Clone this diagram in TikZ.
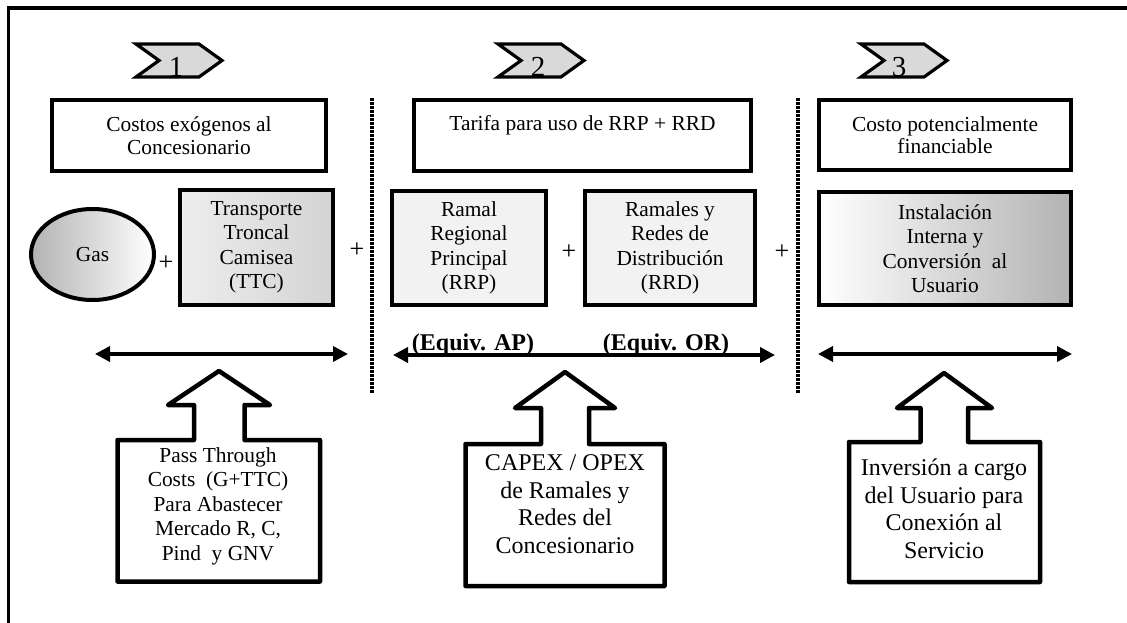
\documentclass[tikz,border=0pt]{standalone}
\usepackage{fontspec}
\setmainfont{Liberation Serif}
\usetikzlibrary{arrows.meta,shapes.geometric}
\newcommand\fsz[2]{\fontsize{#1}{#2}\selectfont}
\begin{document}
\begin{tikzpicture}[x=1pt,y=-1pt,
  frame/.style={line width=3.5pt},
  box/.style={draw,line width=4pt,align=center,inner sep=0pt,font=\fsz{21.4}{24.5}},
  chev/.style={draw,fill=black!15,line width=3.2pt,line join=miter},
  digit/.style={font=\fsz{29}{32},inner sep=0pt,anchor=base},
  plus/.style={font=\fsz{26}{28},inner sep=0pt},
  sep/.style={line width=4pt,dash pattern=on 2.7pt off 1.3pt},
  span/.style={line width=3.5pt,{Triangle[length=15pt,width=15pt]}-{Triangle[length=15pt,width=15pt]}},
  equiv/.style={font=\bfseries\fsz{24}{28},inner sep=0pt,anchor=base},
  blockarrow/.style={draw,line width=4.5pt,line join=round},
  note/.style={align=center,inner sep=0pt},
  pics/stepchev/.style={code={
    \draw[chev] (0,0) -- (63,0) -- (86,16.5) -- (63,33) -- (0,33) -- (23,16.5) -- cycle;}},
]
\useasboundingbox (0,0) rectangle (1127,623);
\clip (0,0) rectangle (1127,623);

% outer frame (runs past the page on the right and bottom)
\draw[frame] (8.5,8) rectangle (1170,680);

% step markers
\pic at (136,44) {stepchev};
\node[digit] (d1) at (176,77) {1};
\pic at (498,44) {stepchev};
\node[digit] (d2) at (538,77) {2};
\pic at (861,44) {stepchev};
\node[digit] (d3) at (899,77) {3};

% headings
\node[box,minimum width=274,minimum height=71] (h1) at (189,135.5)
  {\raisebox{-2pt}{Costos exógenos al}\\Concesionario};
\node[box,minimum width=337,minimum height=71] (h2) at (582.5,135.5)
  {Tarifa para uso de RRP + RRD\\\mbox{}};
\node[box,minimum width=252,minimum height=70] (h3) at (945,135)
  {\raisebox{-2pt}{Costo potencialmente}\\financiable};

% cost components
\node[box,ellipse,minimum width=123,minimum height=91,
      left color=black!30,right color=white] (gas) at (92.5,254.5) {Gas};
\node[box,minimum width=153,minimum height=115,
      left color=black!7,middle color=white,right color=black!17] (ttc) at (256.5,247.5)
  {Transporte\\Troncal\\Camisea\\(TTC)};
\node[box,minimum width=154,minimum height=114,
      left color=black!5,middle color=white,right color=black!5] (rrp) at (469,248)
  {Ramal\\Regional\\Principal\\(RRP)};
\node[box,minimum width=170,minimum height=114,
      left color=black!5,middle color=white,right color=black!5] (rrd) at (670,248)
  {Ramales y\\Redes de\\Distribución\\(RRD)};
\node[box,minimum width=252,minimum height=113,
      left color=white,right color=black!30] (inst) at (945,248.5)
  {Instalación\\Interna y\\Conversión\ \ al\\Usuario};

% plus signs
\node[plus] (p1) at (166,263) {+};
\node[plus] (p2) at (357,250) {+};
\node[plus] (p3) at (569,252) {+};
\node[plus] (p4) at (782,252) {+};

% dotted separators
\coordinate (s1t) at (372,98);  \coordinate (s1b) at (372,393);
\coordinate (s2t) at (798,98);  \coordinate (s2b) at (798,393);
\draw[sep] (s1t) -- (s1b);
\draw[sep] (s2t) -- (s2b);

% spans
\coordinate (a1l) at (95,354);  \coordinate (a1r) at (348,354);
\coordinate (a2l) at (393,355); \coordinate (a2r) at (775,355);
\coordinate (a3l) at (818,354); \coordinate (a3r) at (1072,354);
\draw[span] (a1l) -- (a1r);
\draw[span] (a2l) -- (a2r);
\draw[span] (a3l) -- (a3r);
\node[equiv] (eap) at (473,350) {(Equiv. AP)};
\node[equiv] (eor) at (666,350) {(Equiv. OR)};

% block arrows with their notes
\draw[blockarrow] (219,371) -- (270,405) -- (244.5,405) -- (244.5,440) -- (320,440)
  -- (320,581.5) -- (117.5,581.5) -- (117.5,440) -- (194,440) -- (194,405) -- (168,405) -- cycle;
\draw[blockarrow] (565,372) -- (615,408) -- (589,408) -- (589,444) -- (664.5,444)
  -- (664.5,586) -- (465.5,586) -- (465.5,444) -- (541,444) -- (541,408) -- (515,408) -- cycle;
\draw[blockarrow] (944,373) -- (992,408) -- (968,408) -- (968,442) -- (1040,442)
  -- (1040,582) -- (849,582) -- (849,442) -- (920.5,442) -- (920.5,408) -- (897,408) -- cycle;

\node[note,font=\fsz{21.4}{24.5}] (n1) at (218,506)
  {Pass Through\\Costs\ \ (G+TTC)\\Para Abastecer\\Mercado R, C,\\Pind\ \ y GNV};
\node[note,font=\fsz{24}{27.5}] (n2) at (565,504)
  {CAPEX / OPEX\\de Ramales y\\Redes del\\Concesionario};
\node[note,font=\fsz{24}{27.5}] (n3) at (944,509)
  {Inversión a cargo\\del Usuario para\\Conexión al\\Servicio};
\end{tikzpicture}
\end{document}
